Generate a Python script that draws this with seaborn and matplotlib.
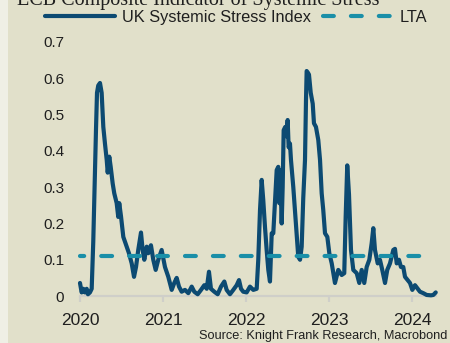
import matplotlib
matplotlib.use("Agg")
import matplotlib.pyplot as plt
from matplotlib.lines import Line2D
import seaborn as sns
import pandas as pd
import numpy as np

# ---- data (decimal years, index values) ----
years = [
    2020.000, 2020.020, 2020.040, 2020.060, 2020.081, 2020.096, 2020.120, 2020.141,
    2020.160, 2020.181, 2020.193, 2020.205, 2020.220, 2020.241, 2020.261, 2020.281,
    2020.301, 2020.322, 2020.334, 2020.353, 2020.370, 2020.394, 2020.413, 2020.442,
    2020.461, 2020.473, 2020.494, 2020.522, 2020.563, 2020.590, 2020.623, 2020.651,
    2020.675, 2020.702, 2020.735, 2020.755, 2020.775, 2020.804, 2020.823, 2020.855,
    2020.883, 2020.912, 2020.943, 2020.984, 2021.024, 2021.064, 2021.105, 2021.136,
    2021.165, 2021.193, 2021.225, 2021.265, 2021.305, 2021.346, 2021.377, 2021.418,
    2021.458, 2021.498, 2021.527, 2021.554, 2021.578, 2021.618, 2021.659, 2021.699,
    2021.739, 2021.767, 2021.807, 2021.847, 2021.888, 2021.916, 2021.940, 2021.967,
    2022.008, 2022.048, 2022.088, 2022.129, 2022.148, 2022.169, 2022.189, 2022.208,
    2022.229, 2022.249, 2022.269, 2022.289, 2022.310, 2022.329, 2022.349, 2022.370,
    2022.389, 2022.401, 2022.413, 2022.430, 2022.442, 2022.454, 2022.473, 2022.488,
    2022.502, 2022.514, 2022.530, 2022.542, 2022.570, 2022.590, 2022.611, 2022.630,
    2022.651, 2022.671, 2022.690, 2022.711, 2022.723, 2022.731, 2022.747, 2022.759,
    2022.780, 2022.804, 2022.819, 2022.843, 2022.871, 2022.892, 2022.912, 2022.931,
    2022.952, 2022.980, 2023.004, 2023.033, 2023.052, 2023.072, 2023.112, 2023.153,
    2023.184, 2023.201, 2023.220, 2023.241, 2023.265, 2023.293, 2023.334, 2023.365,
    2023.394, 2023.425, 2023.454, 2023.486, 2023.514, 2023.534, 2023.554, 2023.587,
    2023.614, 2023.642, 2023.675, 2023.702, 2023.735, 2023.755, 2023.775, 2023.795,
    2023.816, 2023.843, 2023.867, 2023.895, 2023.916, 2023.948, 2023.976, 2024.004,
    2024.036, 2024.069, 2024.096, 2024.136, 2024.177, 2024.229, 2024.257, 2024.286,
]
stress = [
    0.036, 0.010, 0.020, 0.010, 0.020, 0.005, 0.010, 0.020,
    0.150, 0.350, 0.460, 0.560, 0.580, 0.587, 0.560, 0.466,
    0.420, 0.375, 0.340, 0.384, 0.356, 0.310, 0.283, 0.256,
    0.218, 0.256, 0.220, 0.163, 0.136, 0.118, 0.090, 0.053,
    0.080, 0.127, 0.175, 0.127, 0.100, 0.136, 0.118, 0.140,
    0.100, 0.072, 0.100, 0.127, 0.080, 0.053, 0.017, 0.036,
    0.050, 0.026, 0.012, 0.017, 0.008, 0.026, 0.012, 0.005,
    0.017, 0.030, 0.020, 0.067, 0.020, 0.012, 0.005, 0.026,
    0.040, 0.017, 0.005, 0.017, 0.030, 0.044, 0.020, 0.012,
    0.010, 0.026, 0.017, 0.020, 0.100, 0.237, 0.320, 0.265,
    0.190, 0.127, 0.072, 0.040, 0.173, 0.173, 0.256, 0.347,
    0.356, 0.256, 0.347, 0.200, 0.300, 0.457, 0.466, 0.440,
    0.485, 0.410, 0.420, 0.375, 0.300, 0.237, 0.173, 0.108,
    0.100, 0.136, 0.270, 0.375, 0.540, 0.620, 0.615, 0.610,
    0.560, 0.530, 0.476, 0.466, 0.430, 0.375, 0.283, 0.237,
    0.173, 0.163, 0.118, 0.090, 0.063, 0.036, 0.072, 0.058,
    0.063, 0.218, 0.360, 0.280, 0.127, 0.072, 0.063, 0.036,
    0.072, 0.036, 0.080, 0.100, 0.145, 0.187, 0.127, 0.090,
    0.100, 0.072, 0.036, 0.072, 0.090, 0.108, 0.127, 0.130,
    0.090, 0.100, 0.080, 0.080, 0.053, 0.044, 0.036, 0.017,
    0.030, 0.020, 0.012, 0.008, 0.003, 0.002, 0.003, 0.010,
]
lta_value = 0.11
x_ticks = [2020, 2021, 2022, 2023, 2024]
x_labels = ["2020", "2021", "2022", "2023", "2024"]
y_ticks = [0, 0.1, 0.2, 0.3, 0.4, 0.5, 0.6, 0.7]
y_labels = ["0", "0.1", "0.2", "0.3", "0.4", "0.5", "0.6", "0.7"]

title = "ECB Composite Indicator of Systemic Stress"
series_name = "UK Systemic Stress Index"
lta_name = "LTA"
source = "Source: Knight Frank Research, Macrobond"

df = pd.DataFrame({"year": years, "value": stress})

# ---- styling ----
BG = "#e1e0ca"
STRIP = "#efefe5"
NAVY = "#0c4a72"
TEAL = "#1a8fa8"
TXT = "#1f1f1f"
GRID = "#cfcfc9"
LW = 3.0
DASH = (2.6, 4.1)

sns.set_theme(style="white")
plt.rcParams["font.family"] = ["Liberation Sans", "DejaVu Sans"]

fig = plt.figure(figsize=(4.5, 3.43), dpi=100)
fig.patch.set_facecolor(BG)
# lighter strip on the left edge
fig.patches.append(matplotlib.patches.Rectangle((0, 0), 8 / 450, 1, transform=fig.transFigure,
                                                facecolor=STRIP, edgecolor="none", zorder=0))

ax = fig.add_axes([0.1593, 0.1157, 0.830, 0.7831])
ax.set_facecolor(BG)

sns.lineplot(data=df, x="year", y="value", ax=ax, color=NAVY, linewidth=LW,
             legend=False, zorder=3, solid_joinstyle="round", solid_capstyle="round")
ax.hlines(lta_value, df["year"].iloc[0], df["year"].iloc[-1], colors=TEAL, linewidth=LW,
          linestyles=[(1.6, DASH)], zorder=4, capstyle="round")

ax.set_xlim(2019.9, 2024.4)
ax.set_ylim(-0.02, 0.72)
ax.set_xticks(x_ticks)
ax.set_xticklabels(x_labels)
ax.set_yticks(y_ticks)
ax.set_yticklabels(y_labels)
ax.set_xlabel("")
ax.set_ylabel("")

for s in ["top", "right", "left"]:
    ax.spines[s].set_visible(False)
ax.spines["bottom"].set_position(("data", 0))
ax.spines["bottom"].set_bounds(df["year"].iloc[0], df["year"].iloc[-1])
ax.spines["bottom"].set_color(GRID)
ax.spines["bottom"].set_linewidth(1.6)
ax.spines["bottom"].set_zorder(1)

ax.tick_params(axis="x", length=4, width=1.6, color=GRID, labelsize=12.5, labelcolor=TXT,
               pad=8, direction="out", bottom=True)
ax.tick_params(axis="y", length=0, labelsize=11, labelcolor=TXT, pad=5.5)

# legend above plot
handles = [
    Line2D([], [], color=NAVY, linewidth=LW, solid_capstyle="round"),
    Line2D([], [], color=TEAL, linewidth=LW, linestyle=(0, DASH), dash_capstyle="round"),
]
labels = [series_name, lta_name]
leg = fig.legend(handles, labels, loc="center left", bbox_to_anchor=(45 / 450, 1 - 17.5 / 343),
                 ncol=2, frameon=False, fontsize=11.8, handlelength=4.27, handletextpad=0.43,
                 columnspacing=0.73, borderaxespad=0, borderpad=0, labelcolor=TXT)

fig.text(17 / 450, 1 - 4.5 / 343, title, ha="left", va="baseline", fontsize=14.5,
         family=["Liberation Serif", "DejaVu Serif"], color=TXT)
fig.text(447 / 450, 1 - 336 / 343, source, ha="right", va="center", fontsize=9.2, color=TXT)

fig.savefig("out.png", dpi=100, facecolor=BG)
